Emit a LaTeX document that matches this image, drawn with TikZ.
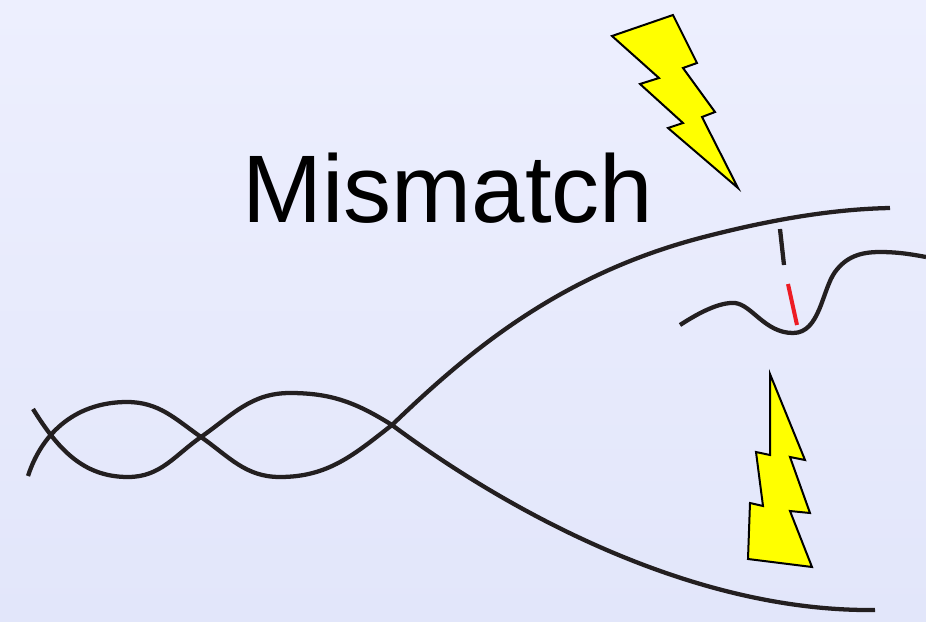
\documentclass[tikz,border=0pt]{standalone}
\usepackage{fontspec}
\setmainfont{Liberation Sans}
\definecolor{strandcol}{HTML}{231F20}
\definecolor{bgtop}{HTML}{EDEFFE}
\definecolor{bgbot}{HTML}{E2E6FA}
\definecolor{boltcol}{HTML}{FFFF00}
\definecolor{mismatchcol}{HTML}{ED1C24}
\tikzset{
	strand/.style={line width=3.2pt, color=strandcol, line cap=butt},
	bolt/.style={fill=boltcol, draw=black, line width=1.5pt, line join=miter},
}

\begin{document}
\begin{tikzpicture}[x=0.75pt, y=-0.75pt]
			%%%%% START %%%%%
			
			\shade[top color=bgtop, bottom color=bgbot] (0, 0) rectangle (926, 622);
			\useasboundingbox (0, 0) rectangle (926, 622);
			
			\node[anchor=base, font=\fontsize{72}{78}\selectfont, inner sep=0pt] (label) at (448, 222) {Mismatch};
			
			% twisted pair, then the fork
			\draw[strand] (33, 409) to[out=-58, in=180] (128, 477) to[out=0, in=215] (201, 437)
				to[out=35, in=180] (290, 393) to[out=0, in=148] (392, 425)
				.. controls (520, 520) and (700, 612) .. (875, 610);
			\draw[strand] (28, 476) to[out=72, in=180] (127, 402) to[out=0, in=145] (201, 437)
				to[out=-35, in=180] (280, 477) to[out=0, in=218] (392, 425)
				.. controls (470, 350) and (560, 275) .. (700, 238)
				.. controls (780, 217) and (840, 209) .. (890, 208);
			
			% loose piece with the bad base
			\draw[strand] (680, 325) .. controls (700, 312) and (720, 302) .. (735, 303)
				.. controls (752, 305) and (765, 333) .. (793, 333)
				.. controls (820, 333) and (822, 290) .. (835, 272)
				.. controls (846, 257) and (860, 252) .. (880, 252)
				.. controls (900, 252) and (915, 255) .. (926, 257);
			\draw[strand] (780, 229) .. controls (782, 247) .. (784, 265);
			\draw[line width=3pt, color=mismatchcol] (788, 284) -- (797, 325);
			
			% bolts
			\draw[bolt] (612, 36) -- (673, 15) -- (697, 63) -- (683, 68) -- (715, 112) -- (702, 117)
				-- (738, 188) -- (668, 128) -- (683, 123) -- (640, 84) -- (659, 78) -- cycle;
			\draw[bolt] (770, 374) -- (805, 460) -- (790, 457) -- (810, 513) -- (790, 511) -- (812, 567)
				-- (748, 559) -- (750, 503) -- (763, 506) -- (756, 452) -- (770, 455) -- cycle;
			
			%%%%% END %%%%%
		\end{tikzpicture}
\end{document}
